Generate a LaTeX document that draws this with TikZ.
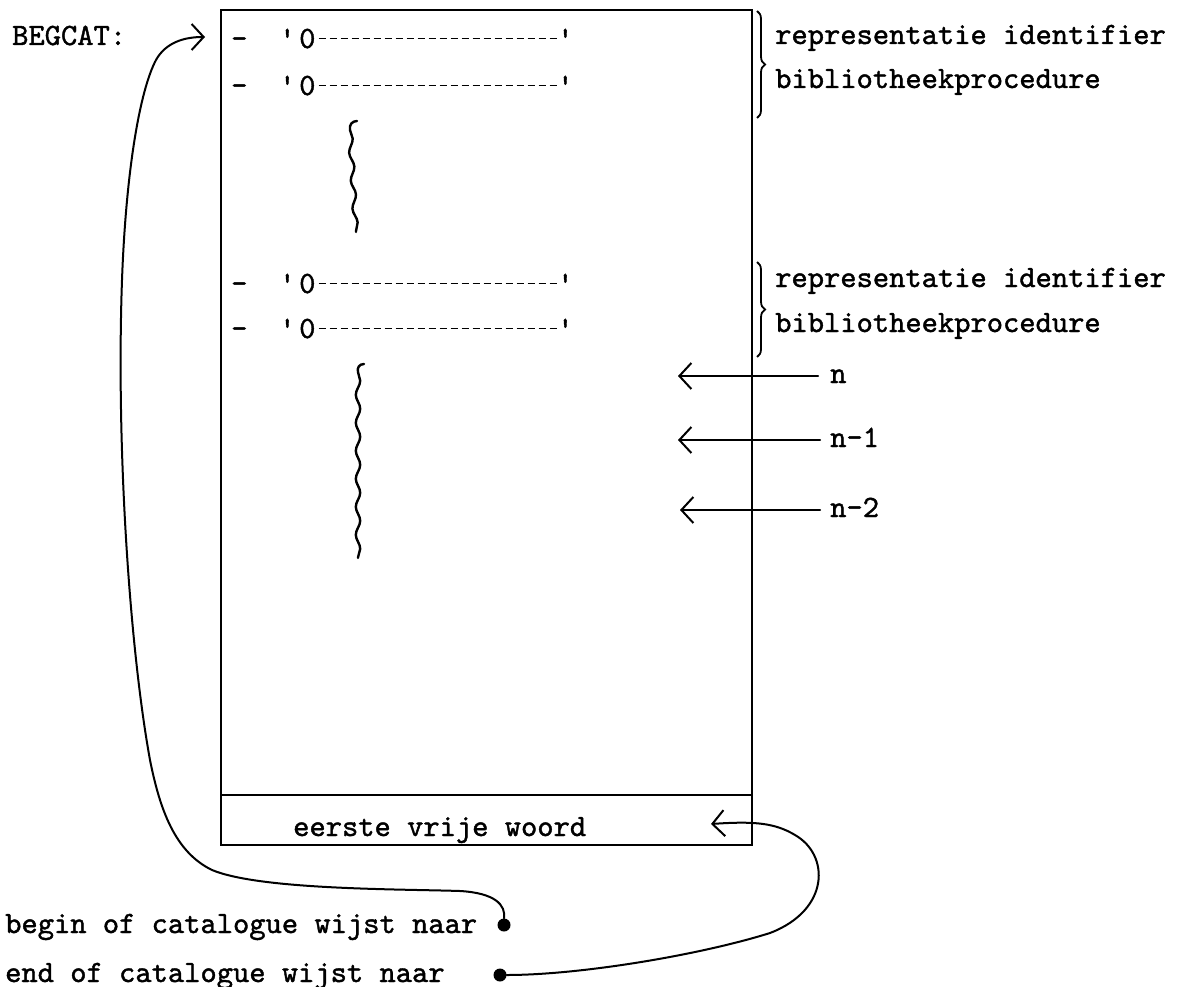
\documentclass[tikz,border=0pt]{standalone}
\usepackage{fontspec}
\usetikzlibrary{arrows.meta,decorations.pathreplacing,decorations.pathmorphing}
\newfontfamily\twf{lmmono10-regular.otf}[FakeBold=1.3]
\newcommand\tw{\twf\fontsize{31}{36}\selectfont}
\newcommand\catrow[2]{%
  \node[txt] (#1m) at (231,#2) {-};
  \node[txt] (#1q) at (279,#2) {'};
  \node[txt] (#1z) at (299,#2) {0};
  \node[txt] (#1e) at (557,#2) {'};
  \draw[dsh] ([xshift=3pt]#1z.east) -- (#1z.east -| #1e.west);
}
\begin{document}
\begin{tikzpicture}[x=1pt,y=-1pt,
  txt/.style={font=\tw, inner sep=0pt, anchor=base west},
  ln/.style={line width=2pt, line cap=round},
  arr/.style={line width=2pt, line cap=round, -{Straight Barb[length=12pt,width=26pt,line width=2pt]}},
  wavy/.style={line width=2.4pt, line cap=round, decorate, decoration={snake, amplitude=2.2pt, segment length=28pt}},
  brc/.style={line width=1.8pt, decorate, decoration={brace, amplitude=8pt}},
  dot/.style={circle, fill=black, inner sep=0pt, minimum size=13pt},
  dsh/.style={line width=1.5pt, dash pattern=on 7pt off 4pt},
  cell/.style={draw, line width=2.4pt, inner sep=0pt, anchor=north west, minimum width=531pt}]

\useasboundingbox (0,0) rectangle (1180,987);

% memory box
\node[cell, minimum height=785pt] (mem) at (220,9) {};
\node[cell, minimum height=50pt] (free) at (220,794) {};
\node[txt] (ev) at (293,836) {eerste vrije woord};

% BEGCAT label
\node[txt] (bc) at (12,45) {BEGCAT:};
\coordinate (begtip) at (205,37);

% rows
\catrow{ra}{48}
\catrow{rb}{95}
\catrow{rc}{293}
\catrow{rd}{338}

% braces and labels
\coordinate (b1t) at (757,11);
\coordinate (b1b) at (757,118);
\coordinate (b2t) at (757,262);
\coordinate (b2b) at (757,357);
\draw[brc] (b1t) -- (b1b);
\draw[brc] (b2t) -- (b2b);
\node[txt] (l1) at (775,44) {representatie identifier};
\node[txt] (l2) at (775,88) {bibliotheekprocedure};
\node[txt] (l3) at (775,287) {representatie identifier};
\node[txt] (l4) at (775,332) {bibliotheekprocedure};

% wavy lines
\coordinate (w1a) at (350,130);
\coordinate (w1b) at (356,232);
\draw[ln, line width=2.4pt] (357,121) .. controls (352,121) and (349,125) .. (w1a);
\draw[wavy] (w1a) -- (w1b);
\coordinate (w2a) at (358,372);
\coordinate (w2b) at (358,558);
\draw[ln, line width=2.4pt] (364,364) .. controls (359,364) and (357,368) .. (w2a);
\draw[wavy] (w2a) -- (w2b);

% n arrows
\node[txt] (n0) at (830,383) {n};
\node[txt] (n1) at (830,447) {n-1};
\node[txt] (n2) at (830,517) {n-2};
\coordinate (t0) at (678,376);
\coordinate (t1) at (678,440);
\coordinate (t2) at (680,510);
\draw[arr] ([xshift=-12pt]n0.west |- t0) -- (t0);
\draw[arr] ([xshift=-10pt]n1.west |- t1) -- (t1);
\draw[arr] ([xshift=-10pt]n2.west |- t2) -- (t2);

% bottom labels and dots
\node[txt] (bl) at (5,933) {begin of catalogue wijst naar};
\node[txt] (el) at (5,982) {end of catalogue wijst naar};
\node[dot] (d1) at (504,925) {};
\node[dot] (d2) at (500,975) {};
\coordinate (eetip) at (711,824);

\draw[arr] (d1.north) .. controls (506,905) and (495,893) .. (460,891)
  .. controls (400,889) and (260,890) .. (212,870)
  .. controls (175,852) and (160,810) .. (150,760)
  .. controls (130,650) and (116,450) .. (122,280)
  .. controls (126,170) and (140,90) .. (156,60)
  .. controls (166,42) and (185,37) .. (begtip);

\draw[arr] (d2.east) .. controls (580,975) and (700,955) .. (770,933)
  .. controls (830,910) and (830,855) .. (795,835)
  .. controls (775,823) and (755,821) .. (eetip);
\end{tikzpicture}
\end{document}
